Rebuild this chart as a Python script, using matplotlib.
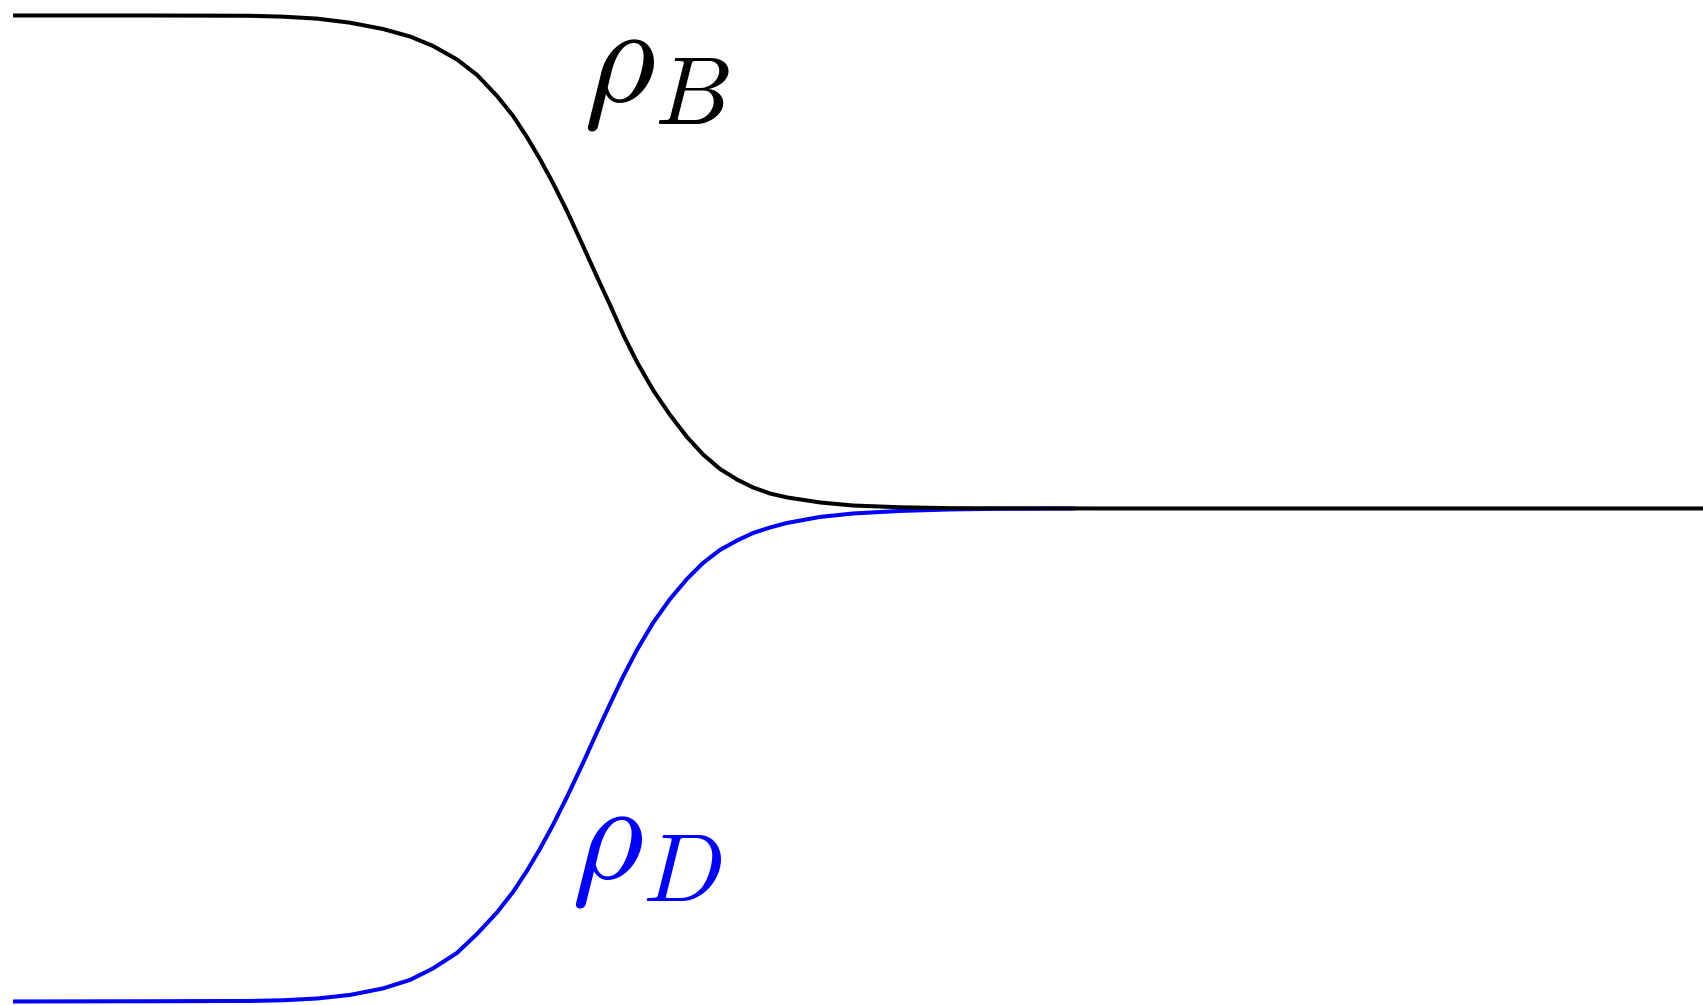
import matplotlib
matplotlib.use('Agg')
import matplotlib.pyplot as plt

# Density profiles (position z, density rho).
z_bulk = [0.000, 0.811, 1.402, 1.598, 1.799, 1.994, 2.189, 2.349, 2.485, 2.627,
          2.746, 2.864, 2.959, 3.041, 3.118, 3.195, 3.278, 3.373, 3.456, 3.533,
          3.609, 3.692, 3.787, 3.888, 3.988, 4.083, 4.183, 4.284, 4.379, 4.479,
          4.580, 4.775, 4.970, 5.249, 5.544, 6.432, 10.000]
rho_b = [1.0000, 1.0000, 0.9997, 0.9988, 0.9968, 0.9927, 0.9863, 0.9787, 0.9691,
         0.9554, 0.9397, 0.9184, 0.8981, 0.8767, 0.8544, 0.8301, 0.8017, 0.7662,
         0.7348, 0.7064, 0.6770, 0.6486, 0.6202, 0.5948, 0.5725, 0.5548, 0.5401,
         0.5294, 0.5213, 0.5152, 0.5112, 0.5061, 0.5030, 0.5012, 0.5003, 0.5000,
         0.5000]

z_drop = [0.000, 0.811, 1.402, 1.598, 1.799, 1.994, 2.189, 2.349, 2.485, 2.627,
          2.746, 2.864, 2.959, 3.041, 3.118, 3.195, 3.278, 3.373, 3.456, 3.533,
          3.609, 3.692, 3.787, 3.888, 3.988, 4.083, 4.183, 4.284, 4.379, 4.479,
          4.580, 4.775, 4.970, 5.249, 5.544, 5.840, 6.284]
rho_d = [0.0000, 0.0002, 0.0005, 0.0012, 0.0030, 0.0066, 0.0132, 0.0218, 0.0335,
         0.0492, 0.0685, 0.0903, 0.1111, 0.1324, 0.1547, 0.1790, 0.2074, 0.2419,
         0.2733, 0.3018, 0.3291, 0.3565, 0.3839, 0.4082, 0.4285, 0.4447, 0.4579,
         0.4675, 0.4751, 0.4807, 0.4853, 0.4914, 0.4949, 0.4975, 0.4990, 0.4997,
         0.5000]

plt.rcParams['mathtext.fontset'] = 'cm'

fig = plt.figure(figsize=(17.03, 10.05), dpi=100)
ax = fig.add_axes([0, 0, 1, 1])

ax.plot(z_drop, rho_d, color='blue', lw=2.9, solid_capstyle='butt',
        solid_joinstyle='round')
ax.plot(z_bulk, rho_b, color='black', lw=2.9, solid_capstyle='butt',
        solid_joinstyle='round')

# labels
ax.text(3.37, 0.914, r'$\rho_B$', fontsize=100, color='black', va='baseline')
ax.text(3.30, 0.126, r'$\rho_D$', fontsize=100, color='blue', va='baseline')

ax.set_xlim(-0.0769, 10.0)
ax.set_ylim(-0.0036, 1.0157)
ax.axis('off')

fig.savefig('out.png', dpi=100)
